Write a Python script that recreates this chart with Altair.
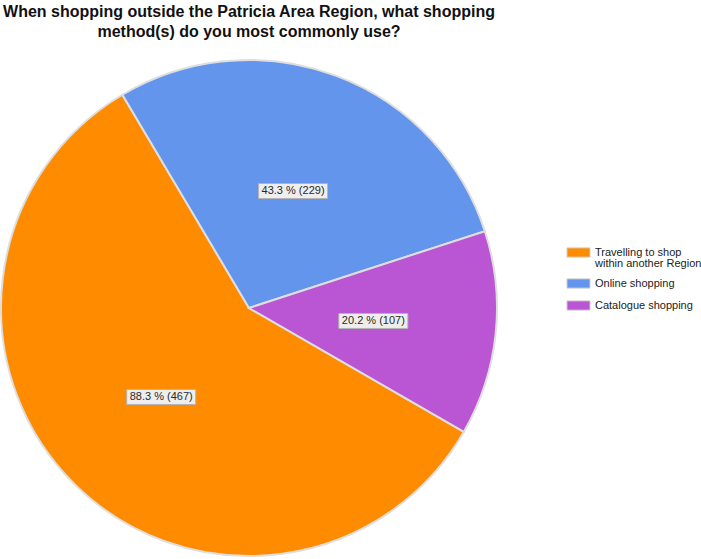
import math
import altair as alt
import pandas as pd

# ---- data ----
categories = ["Travelling to shop|within another Region", "Online shopping", "Catalogue shopping"]
counts = [467, 229, 107]
percents = [88.3, 43.3, 20.2]
pie_order = [3, 1, 2]          # drawing order around the pie (clockwise)
colors = ["#FF8C00", "#6495ED", "#BA55D3"]

title_lines = [
    "When shopping outside the Patricia Area Region, what shopping",
    "method(s) do you most commonly use?",
]

df = pd.DataFrame({
    "category": categories,
    "count": counts,
    "percent": percents,
    "pie_order": pie_order,
})

# ---- layout constants ----
START = -0.5358           # start angle of the first slice (radians, 0 = 12 o'clock)
CX, CY, R = 249, 256, 248  # pie centre and radius in the plot area
LR = 125                   # label radius
BW, BH = 69, 15            # label box size

base = alt.Chart(df)

arcs = base.mark_arc(outerRadius=R, stroke="#dedede", strokeWidth=2).encode(
    theta=alt.Theta("count:Q", stack=True,
                    scale=alt.Scale(range=[START, START + 2 * math.pi])),
    color=alt.Color(
        "category:N",
        scale=alt.Scale(domain=categories, range=colors),
        legend=alt.Legend(
            title=None,
            orient="none",
            legendX=573,
            legendY=195,
            padding=0,
            labelExpr="split(datum.label, '|')",
            labelFont="Liberation Sans",
            labelFontSize=11,
            labelColor="#222222",
            labelLimit=300,
            labelOffset=11,
            rowPadding=7,
            symbolType="M-2.5,-1L2.5,-1L2.5,1L-2.5,1Z",
            symbolSize=85,
            symbolStrokeColor="#d0d0d0",
            symbolStrokeWidth=1,
            symbolOpacity=1,
        ),
    ),
    order=alt.Order("pie_order:Q"),
    x=alt.value(CX),
    y=alt.value(CY),
)

labelled = base.transform_window(
    cum="sum(count)", sort=[alt.SortField("pie_order")], frame=[None, 0]
).transform_joinaggregate(
    total="sum(count)"
).transform_calculate(
    mid=f"{START} + 2 * PI * (datum.cum - datum.count / 2) / datum.total",
).transform_calculate(
    lx=f"{CX} + {LR} * sin(datum.mid)",
    ly=f"{CY} - {LR} * cos(datum.mid)",
    label="format(datum.percent, '.1f') + ' % (' + datum.count + ')'",
).transform_calculate(
    bx1=f"datum.lx - {BW / 2}",
    bx2=f"datum.lx + {BW / 2}",
    by1=f"datum.ly - {BH / 2}",
    by2=f"datum.ly + {BH / 2}",
)

boxes = labelled.mark_rect(fill="#eeeeee", stroke="#b4b4b4", strokeWidth=1).encode(
    x=alt.X("bx1:Q", scale=None, axis=None),
    x2="bx2:Q",
    y=alt.Y("by1:Q", scale=None, axis=None),
    y2="by2:Q",
)

texts = labelled.mark_text(
    font="Liberation Sans", fontSize=11, color="#2a2a2a", baseline="middle", align="center"
).encode(
    x=alt.X("lx:Q", scale=None, axis=None),
    y=alt.Y("ly:Q", scale=None, axis=None),
    text="label:N",
)

chart = alt.layer(arcs, boxes, texts).properties(
    width=701,
    height=507,
    autosize=alt.AutoSizeParams(type="none"),
    padding={"top": 52, "left": 0, "right": 0, "bottom": 0},
    background="white",
    title=alt.TitleParams(
        text=title_lines,
        font="Liberation Sans",
        fontSize=16,
        fontWeight="bold",
        color="#111111",
        anchor="middle",
        frame="group",
        dx=-101.5,
        lineHeight=20,
        offset=12,
    ),
).configure(
    style={"guide-label": {"lineHeight": 11}},
    view=alt.ViewConfig(strokeWidth=0, stroke="transparent"),
)

chart.save("out.html", embed_options={"renderer": "svg", "actions": False})
